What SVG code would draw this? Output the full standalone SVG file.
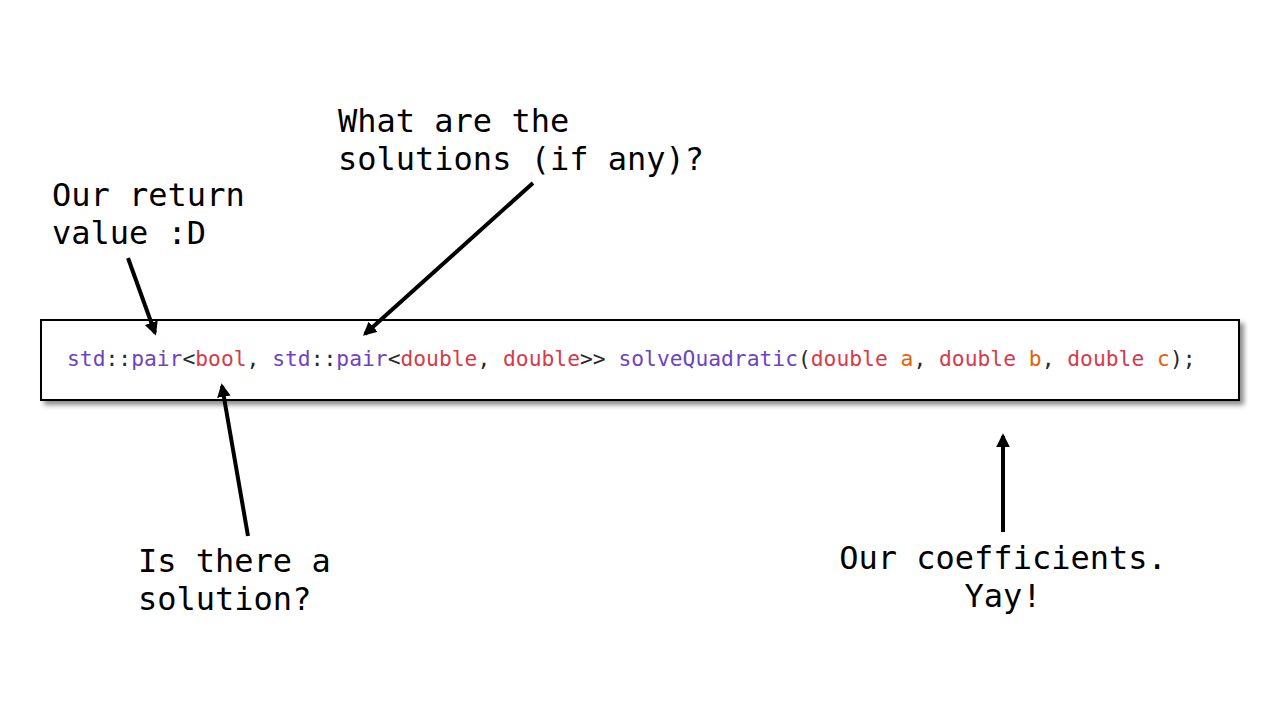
<svg xmlns="http://www.w3.org/2000/svg" width="1280" height="720" viewBox="0 0 1280 720">
<style>
.lbl{font-family:"DejaVu Sans Mono","Liberation Mono",monospace;font-size:32px;fill:#000}
.code{font-family:"DejaVu Sans Mono","Liberation Mono",monospace;font-size:21.3px;fill:#24292e}
.p{fill:#6f42c1}.r{fill:#d73a49}.o{fill:#e36209}
.arr{stroke:#000;stroke-width:4;fill:none;marker-end:url(#ah)}
</style>
<defs>
<marker id="ah" viewBox="0 0 10 10" refX="8" refY="5" markerWidth="3.4" markerHeight="3.4" orient="auto" markerUnits="strokeWidth">
<path d="M0,0 L10,5 L0,10 z" fill="#000"/>
</marker>
<filter id="sh" x="-5%" y="-20%" width="110%" height="150%">
<feDropShadow dx="4" dy="4" stdDeviation="2.5" flood-color="#000" flood-opacity="0.45"/>
</filter>
</defs>
<rect width="1280" height="720" fill="#fff"/>
<g id="code-box">
<rect x="41" y="320" width="1198" height="80" fill="#fff" stroke="#000" stroke-width="2" filter="url(#sh)"/>
<text class="code" x="67" y="366" xml:space="preserve"><tspan class="p">std</tspan>::<tspan class="p">pair</tspan>&lt;<tspan class="r">bool</tspan>, <tspan class="p">std</tspan>::<tspan class="p">pair</tspan>&lt;<tspan class="r">double</tspan>, <tspan class="r">double</tspan>&gt;&gt; <tspan class="p">solveQuadratic</tspan>(<tspan class="r">double</tspan> <tspan class="o">a</tspan>, <tspan class="r">double</tspan> <tspan class="o">b</tspan>, <tspan class="r">double</tspan> <tspan class="o">c</tspan>);</text>
</g>
<g id="label-return">
<text class="lbl" x="52" y="206">Our return</text>
<text class="lbl" x="52" y="244">value :D</text>
</g>
<g id="label-solutions">
<text class="lbl" x="338" y="132">What are the</text>
<text class="lbl" x="338" y="170">solutions (if any)?</text>
</g>
<g id="label-is-solution">
<text class="lbl" x="138" y="572">Is there a</text>
<text class="lbl" x="138" y="610">solution?</text>
</g>
<g id="label-coefficients">
<text class="lbl" x="1003" y="569" text-anchor="middle">Our coefficients.</text>
<text class="lbl" x="1003" y="607" text-anchor="middle">Yay!</text>
</g>
<g id="connectors">
<line class="arr" x1="128" y1="258" x2="155" y2="333"/>
<line class="arr" x1="533" y1="183" x2="365" y2="334"/>
<line class="arr" x1="248" y1="536" x2="222" y2="386"/>
<line class="arr" x1="1003" y1="532" x2="1003" y2="436"/>
</g>
</svg>
